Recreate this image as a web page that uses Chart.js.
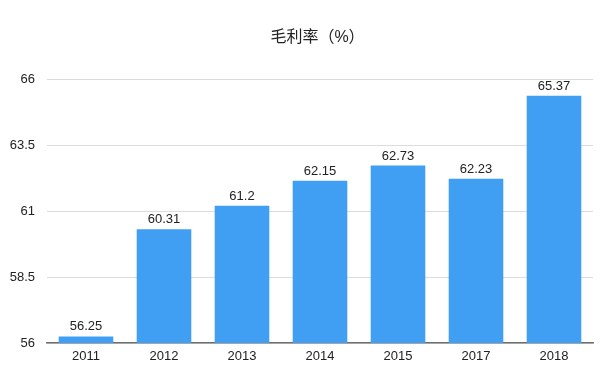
<html><head><meta charset="utf-8">
<script src="https://cdn.jsdelivr.net/npm/chart.js@4.4.0/dist/chart.umd.min.js"></script>
<style>
  body { margin: 0; background: #fff; }
  #wrap { width: 608px; height: 376px; }
</style>
</head>
<body>
<div id="wrap"><canvas id="myChart" width="608" height="376"></canvas></div>
<script>
var years = ['2011', '2012', '2013', '2014', '2015', '2017', '2018'];
var grossMargin = [56.25, 60.31, 61.2, 62.15, 62.73, 62.23, 65.37];
var yTicks = [56, 58.5, 61, 63.5, 66];

var FONT = '"Liberation Sans", Arial, "Noto Sans CJK SC", sans-serif';

// value labels above each bar
var barLabels = {
  id: 'barLabels',
  afterDatasetsDraw: function(chart) {
    var ctx = chart.ctx;
    var meta = chart.getDatasetMeta(0);
    ctx.save();
    ctx.font = '13px ' + FONT;
    ctx.fillStyle = '#222';
    ctx.textAlign = 'center';
    ctx.textBaseline = 'bottom';
    meta.data.forEach(function(bar, i) {
      ctx.fillText(String(grossMargin[i]), bar.x, bar.y - 3);
    });
    ctx.restore();
  }
};

// title in the original sits a bit right of centre
var titleShift = {
  id: 'titleShift',
  afterLayout: function(chart) {
    if (chart.titleBlock) chart.titleBlock.left += 42;
  }
};

var ctx = document.getElementById('myChart');
var myChart = new Chart(ctx, {
  type: 'bar',
  data: {
    labels: years,
    datasets: [{
      label: '毛利率（%）',
      data: grossMargin,
      backgroundColor: '#409ff3',
      borderWidth: 0,
      categoryPercentage: 0.7,
      barPercentage: 1.0
    }]
  },
  options: {
    responsive: false,
    animation: false,
    layout: { padding: { left: 0, right: 15, top: 0, bottom: 0 } },
    plugins: {
      legend: { display: false },
      tooltip: { enabled: false },
      title: {
        display: true,
        text: '毛利率（%）',
        color: '#222',
        font: { family: FONT, size: 16, weight: 'normal', lineHeight: 1.2 },
        padding: { top: 28, bottom: 32 }
      }
    },
    scales: {
      x: {
        grid: { display: false, drawTicks: false },
        border: { display: true, color: '#6e6e6e', width: 1.5 },
        ticks: { color: '#222', font: { family: FONT, size: 13 }, padding: 6 },
        afterFit: function(scale) { scale.height = 33; }
      },
      y: {
        min: 56,
        max: 66,
        afterBuildTicks: function(scale) {
          scale.ticks = yTicks.map(function(v) { return { value: v }; });
        },
        grid: { color: '#dcdcdc', drawTicks: false, lineWidth: 1 },
        border: { display: false },
        ticks: { color: '#222', font: { family: FONT, size: 13 }, padding: 12 },
        afterFit: function(scale) { scale.width = 47; }
      }
    }
  },
  plugins: [barLabels, titleShift]
});
</script>
</body></html>
